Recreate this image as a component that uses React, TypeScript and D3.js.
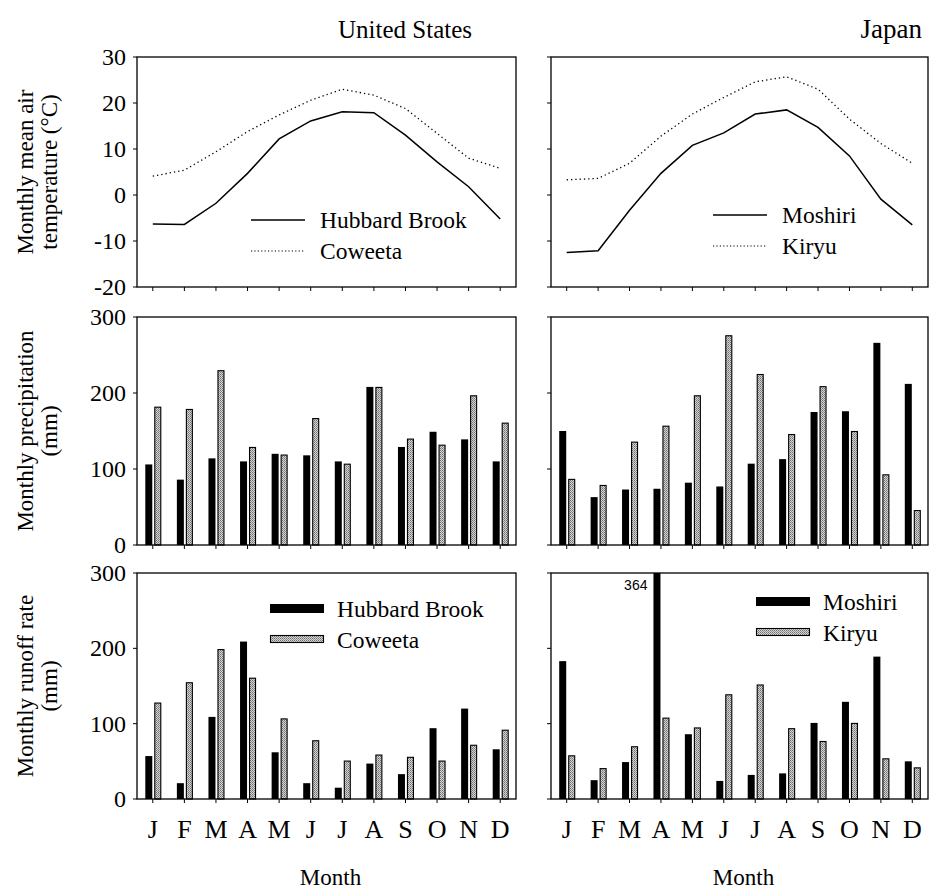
import * as d3 from "d3";

const months = ["J", "F", "M", "A", "M", "J", "J", "A", "S", "O", "N", "D"];
const monthKeys = months.map((m, i) => `${m}${i}`);

// air temperature (°C)
const tempHubbard = [-6.3, -6.4, -1.8, 4.7, 12.2, 16.1, 18.1, 17.9, 13.0, 7.2, 1.8, -5.2];
const tempCoweeta = [4.1, 5.4, 9.4, 13.8, 17.4, 20.6, 23.0, 21.7, 18.8, 13.4, 8.0, 5.8];
const tempMoshiri = [-12.5, -12.1, -3.3, 4.7, 10.8, 13.5, 17.6, 18.5, 14.7, 8.5, -0.9, -6.5];
const tempKiryu = [3.3, 3.6, 6.9, 12.8, 17.6, 21.2, 24.6, 25.7, 23.0, 16.5, 11.2, 6.9];

// precipitation (mm)
const precHubbard = [106, 86, 114, 110, 120, 118, 110, 208, 129, 149, 139, 110];
const precCoweeta = [182, 179, 230, 129, 119, 167, 107, 208, 140, 132, 197, 161];
const precMoshiri = [150, 63, 73, 74, 82, 77, 107, 113, 175, 176, 266, 212];
const precKiryu = [87, 79, 136, 157, 197, 276, 225, 146, 209, 150, 93, 46];

// runoff (mm)
const runHubbard = [57, 21, 109, 209, 62, 21, 15, 47, 33, 94, 120, 66];
const runCoweeta = [128, 155, 199, 161, 107, 78, 51, 59, 56, 51, 72, 92];
const runMoshiri = [183, 25, 49, 364, 86, 24, 32, 34, 101, 129, 189, 50];
const runKiryu = [58, 41, 70, 108, 95, 139, 152, 94, 77, 101, 54, 42];

const tempTicks = [30, 20, 10, 0, -10, -20];
const mmTicks = [0, 100, 200, 300];

const W = 929;
const H = 891;
const serif = "Liberation Serif, Times New Roman, Times, serif";
const sans = "Liberation Sans, Arial, sans-serif";

const cols = [
  { x0: 137, x1: 516, labels: true },
  { x0: 551, x1: 928, labels: false },
];
const rows = {
  temp: { y0: 57, y1: 287 },
  prec: { y0: 317, y1: 545 },
  run: { y0: 573, y1: 799 },
};

function Frame({ x0, x1, y0, y1 }) {
  return (
    <rect x={x0} y={y0} width={x1 - x0} height={y1 - y0} fill="none" stroke="#000" strokeWidth={1.3} />
  );
}

function XTicks({ x, y1 }) {
  return (
    <g>
      {monthKeys.map((k) => {
        const cx = x(k) + x.bandwidth() / 2;
        return <line key={k} x1={cx} x2={cx} y1={y1} y2={y1 + 4} stroke="#000" strokeWidth={1} />;
      })}
    </g>
  );
}

function YAxis({ y, ticks, x0, labels }) {
  return (
    <g>
      {ticks.map((t) => (
        <g key={t}>
          <line x1={x0 - 4} x2={x0} y1={y(t)} y2={y(t)} stroke="#000" strokeWidth={1} />
          {labels && (
            <text x={x0 - 11} y={y(t) + 8} textAnchor="end" style={{ fontFamily: serif, fontSize: 24 }}>
              {t}
            </text>
          )}
        </g>
      ))}
    </g>
  );
}

function TempPanel({ col, a, b, legend }) {
  const { y0, y1 } = rows.temp;
  const x = d3.scaleBand().domain(monthKeys).range([col.x0, col.x1]);
  const y = d3.scaleLinear().domain([-20, 30]).range([y1, y0]);
  const line = d3
    .line<number>()
    .x((_, i) => x(monthKeys[i]) + x.bandwidth() / 2)
    .y((d) => y(d));
  return (
    <g>
      <path d={line(b)} fill="none" stroke="#000" strokeWidth={1.3} strokeDasharray="1.3,3" />
      <path d={line(a)} fill="none" stroke="#000" strokeWidth={1.5} />
      <Frame x0={col.x0} x1={col.x1} y0={y0} y1={y1} />
      <XTicks x={x} y1={y1} />
      <YAxis y={y} ticks={tempTicks} x0={col.x0} labels={col.labels} />
      <g style={{ fontFamily: serif, fontSize: 23.5 }}>
        <line x1={legend.lx} x2={legend.lx + 54} y1={legend.ly} y2={legend.ly} stroke="#000" strokeWidth={1.5} />
        <text x={legend.lx + 69} y={legend.ly + 8}>{legend.a}</text>
        <line x1={legend.lx} x2={legend.lx + 54} y1={legend.ly + 31} y2={legend.ly + 31} stroke="#000" strokeWidth={1.2} strokeDasharray="1.2,2.2" />
        <text x={legend.lx + 69} y={legend.ly + 39}>{legend.b}</text>
      </g>
    </g>
  );
}

function BarPanel({ col, row, a, b, legend, note }) {
  const { y0, y1 } = row;
  const x = d3.scaleBand().domain(monthKeys).range([col.x0, col.x1]);
  const inner = d3.scaleBand().domain(["a", "b"]).range([-7.5, 8.5]).paddingInner(2 / 9);
  const y = d3.scaleLinear().domain([0, 300]).range([y1, y0]);
  const bar = (v, i, s) => {
    const cx = x(monthKeys[i]) + x.bandwidth() / 2 + inner(s);
    const top = y(Math.min(v, 300));
    return { x: cx, y: top, w: inner.bandwidth(), h: y(0) - top };
  };
  return (
    <g>
      {a.map((v, i) => {
        const r = bar(v, i, "a");
        return <rect key={`a${i}`} x={r.x} y={r.y} width={r.w} height={r.h} fill="#000" />;
      })}
      {b.map((v, i) => {
        const r = bar(v, i, "b");
        return (
          <rect key={`b${i}`} x={r.x + 0.5} y={r.y + 0.5} width={r.w - 1} height={r.h - 0.5} fill="url(#stipple)" stroke="#000" strokeWidth={1.1} />
        );
      })}
      {note &&
        (() => {
          const r = bar(a[note.i], note.i, "a");
          return (
            <text x={r.x - 6} y={y(300) + 17} textAnchor="end" style={{ fontFamily: sans, fontSize: 14 }}>
              {a[note.i]}
            </text>
          );
        })()}
      <Frame x0={col.x0} x1={col.x1} y0={y0} y1={y1} />
      <XTicks x={x} y1={y1} />
      <YAxis y={y} ticks={mmTicks} x0={col.x0} labels={col.labels} />
      {legend && (
        <g style={{ fontFamily: serif, fontSize: 23.5 }}>
          <rect x={legend.lx} y={legend.ly} width={54} height={9} fill="#000" />
          <text x={legend.lx + 67} y={legend.ly + 13}>{legend.a}</text>
          <rect x={legend.lx + 0.5} y={legend.ly + 31.5} width={53} height={7} fill="url(#stipple)" stroke="#000" strokeWidth={1.1} />
          <text x={legend.lx + 67} y={legend.ly + 44}>{legend.b}</text>
        </g>
      )}
    </g>
  );
}

function YLabel({ cy, lines }) {
  return (
    <g style={{ fontFamily: serif, fontSize: 23 }} textAnchor="middle">
      {lines.map((t, i) => (
        <text key={i} transform={`translate(${33 + i * 24},${cy}) rotate(-90)`}>
          {t}
        </text>
      ))}
    </g>
  );
}

export default function App() {
  const xUS = d3.scaleBand().domain(monthKeys).range([cols[0].x0, cols[0].x1]);
  const xJP = d3.scaleBand().domain(monthKeys).range([cols[1].x0, cols[1].x1]);
  return (
    <svg width={W} height={H} style={{ position: "absolute", left: 0, top: 0, background: "#fff" }}>
      <defs>
        <pattern id="stipple" width={2} height={2} patternUnits="userSpaceOnUse">
          <rect width={2} height={2} fill="#d4d4d4" />
          <rect width={1} height={1} fill="#6f6f6f" />
          <rect x={1} y={1} width={1} height={1} fill="#909090" />
        </pattern>
      </defs>
      <text x={405} y={38} textAnchor="middle" style={{ fontFamily: serif, fontSize: 25 }}>
        United States
      </text>
      <text x={922} y={38} textAnchor="end" style={{ fontFamily: serif, fontSize: 27 }}>
        Japan
      </text>

      <YLabel cy={172} lines={["Monthly mean air", "temperature (\u00B0C)"]} />
      <YLabel cy={431} lines={["Monthly precipitation", "(mm)"]} />
      <YLabel cy={686} lines={["Monthly runoff rate", "(mm)"]} />

      <TempPanel col={cols[0]} a={tempHubbard} b={tempCoweeta} legend={{ lx: 251, ly: 220, a: "Hubbard Brook", b: "Coweeta" }} />
      <TempPanel col={cols[1]} a={tempMoshiri} b={tempKiryu} legend={{ lx: 713, ly: 215, a: "Moshiri", b: "Kiryu" }} />

      <BarPanel col={cols[0]} row={rows.prec} a={precHubbard} b={precCoweeta} />
      <BarPanel col={cols[1]} row={rows.prec} a={precMoshiri} b={precKiryu} />

      <BarPanel col={cols[0]} row={rows.run} a={runHubbard} b={runCoweeta} legend={{ lx: 270, ly: 604, a: "Hubbard Brook", b: "Coweeta" }} />
      <BarPanel col={cols[1]} row={rows.run} a={runMoshiri} b={runKiryu} legend={{ lx: 756, ly: 597, a: "Moshiri", b: "Kiryu" }} note={{ i: 3 }} />

      <g style={{ fontFamily: serif, fontSize: 26 }} textAnchor="middle">
        {monthKeys.map((k, i) => (
          <text key={`us${k}`} x={xUS(k) + xUS.bandwidth() / 2} y={838}>
            {months[i]}
          </text>
        ))}
        {monthKeys.map((k, i) => (
          <text key={`jp${k}`} x={xJP(k) + xJP.bandwidth() / 2} y={838}>
            {months[i]}
          </text>
        ))}
      </g>
      <text x={(cols[0].x0 + cols[0].x1) / 2 + 4} y={885} textAnchor="middle" style={{ fontFamily: serif, fontSize: 23 }}>
        Month
      </text>
      <text x={(cols[1].x0 + cols[1].x1) / 2 + 4} y={885} textAnchor="middle" style={{ fontFamily: serif, fontSize: 23 }}>
        Month
      </text>
    </svg>
  );
}
